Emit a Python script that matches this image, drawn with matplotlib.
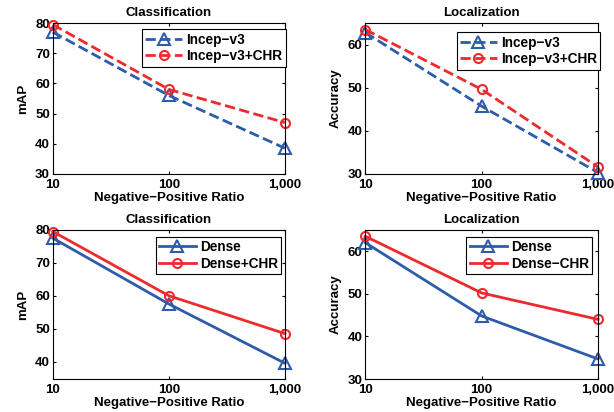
import matplotlib.pyplot as plt

plt.rcParams['font.family'] = ['Liberation Sans', 'DejaVu Sans']
plt.rcParams['font.weight'] = 'bold'

ratio = [10, 100, 1000]
ratio_labels = ['10', '100', '1,000']

# top row: Inception-v3
cls_incep = [77.0, 56.0, 38.5]
cls_incep_chr = [79.5, 58.0, 47.0]
loc_incep = [62.8, 45.7, 30.3]
loc_incep_chr = [63.5, 49.6, 31.6]

# bottom row: Dense
cls_dense = [77.5, 57.5, 39.5]
cls_dense_chr = [79.5, 60.0, 48.5]
loc_dense = [62.0, 44.8, 34.7]
loc_dense_chr = [63.5, 50.2, 44.0]

blue = '#2e5caa'
red = '#ee2a2e'

fig = plt.figure(figsize=(6.14, 4.12), dpi=100)

# rect, title, ylabel, ylim, yticks, series, labels, linestyle, legend anchor
panels = [
    ([0.086, 0.578, 0.378, 0.366], 'Classification', 'mAP', (30, 80), [30, 40, 50, 60, 70, 80],
     cls_incep, cls_incep_chr, 'Incep\u2212v3', 'Incep\u2212v3+CHR', '--', (1.003, 0.96)),
    ([0.595, 0.578, 0.379, 0.366], 'Localization', 'Accuracy', (30, 65), [30, 40, 50, 60],
     loc_incep, loc_incep_chr, 'Incep\u2212v3', 'Incep\u2212v3+CHR', '--', (1.01, 0.94)),
    ([0.086, 0.080, 0.378, 0.362], 'Classification', 'mAP', (34.7, 80), [40, 50, 60, 70, 80],
     cls_dense, cls_dense_chr, 'Dense', 'Dense+CHR', '-', (0.985, 0.955)),
    ([0.595, 0.080, 0.379, 0.362], 'Localization', 'Accuracy', (30, 65), [30, 40, 50, 60],
     loc_dense, loc_dense_chr, 'Dense', 'Dense\u2212CHR', '-', (0.975, 0.955)),
]

for rect, title, ylabel, ylim, yticks, base, chr_, lab1, lab2, ls, anchor in panels:
    ax = fig.add_axes(rect)
    ax.plot(ratio, base, ls, color=blue, lw=2, marker='^', ms=8.5,
            mfc='none', mec=blue, mew=1.5, label=lab1, clip_on=False)
    ax.plot(ratio, chr_, ls, color=red, lw=2, marker='o', ms=6.5,
            mfc='none', mec=red, mew=1.5, label=lab2, clip_on=False)
    ax.set_xscale('log')
    ax.set_xlim(10, 1000)
    ax.set_xticks(ratio)
    ax.set_xticklabels(ratio_labels)
    ax.minorticks_off()
    ax.set_ylim(*ylim)
    ax.set_yticks(yticks)
    ax.tick_params(direction='in', length=2.5, top=True, right=True, labelsize=9.5)
    ax.tick_params(axis='x', pad=3.5)
    ax.tick_params(axis='y', pad=2)
    for lbl in ax.get_xticklabels() + ax.get_yticklabels():
        lbl.set_fontweight('bold')
    ax.set_title(title, fontsize=9.5, fontweight='bold', pad=5)
    ax.set_xlabel('Negative\u2212Positive Ratio', fontsize=9.5, fontweight='bold', labelpad=1)
    ax.set_ylabel(ylabel, fontsize=9.5, fontweight='bold', labelpad=4)
    leg = ax.legend(loc='upper right', bbox_to_anchor=anchor, fontsize=9.8, fancybox=False,
                    framealpha=1, edgecolor='black', handlelength=2.7, borderpad=0.25,
                    labelspacing=0.2, handletextpad=0.3, borderaxespad=0.0)
    leg.get_frame().set_linewidth(0.8)
    for t in leg.get_texts():
        t.set_fontweight('bold')

fig.savefig('out.png', dpi=100)
